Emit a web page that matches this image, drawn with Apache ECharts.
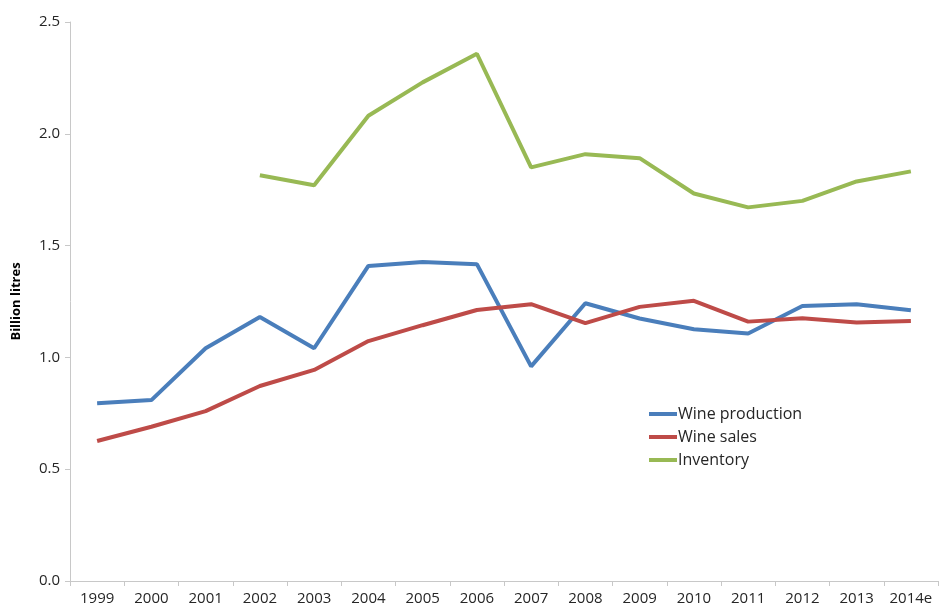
<!DOCTYPE html>
<html>
<head>
<meta charset="utf-8">
<script src="https://cdn.jsdelivr.net/npm/echarts@6/dist/echarts.min.js"></script>
<style>
html,body{margin:0;padding:0;background:#fff;}
#chart{width:939px;height:610px;}
</style>
</head>
<body>
<div id="chart"></div>
<script>
const categories = ['1999','2000','2001','2002','2003','2004','2005','2006','2007','2008','2009','2010','2011','2012','2013','2014e'];
const wineProduction = [0.795,0.809,1.041,1.181,1.041,1.409,1.427,1.417,0.960,1.242,1.174,1.126,1.107,1.230,1.238,1.211];
const wineSales = [0.626,0.690,0.760,0.872,0.944,1.073,1.144,1.212,1.238,1.153,1.226,1.253,1.160,1.175,1.156,1.163];
const inventory = [null,null,null,1.815,1.770,2.081,2.230,2.358,1.850,1.909,1.891,1.733,1.671,1.700,1.787,1.832];
const yTicks = [0,0.5,1.0,1.5,2.0,2.5];

const font = "'Open Sans', 'Liberation Sans', sans-serif";
const textColor = '#262626';
const chart = echarts.init(document.getElementById('chart'));
chart.setOption({
  animation:false,
  backgroundColor:'#fff',
  grid:{left:70,right:1,top:22,bottom:29,containLabel:false},
  legend:{
    orient:'vertical',left:644,top:401,itemWidth:28,itemHeight:4,itemGap:7,
    icon:'rect',
    textStyle:{fontFamily:font,fontSize:16,color:textColor,padding:[0,0,0,-4]},
    data:['Wine production','Wine sales','Inventory']
  },
  xAxis:{
    type:'category',data:categories,boundaryGap:true,
    axisLine:{lineStyle:{color:'#c8c8c8',width:1}},
    axisTick:{show:true,length:5,lineStyle:{color:'#c8c8c8'}},
    axisLabel:{fontFamily:font,fontSize:15,color:textColor,margin:10,interval:0},
    splitLine:{show:false}
  },
  yAxis:{
    type:'value',min:yTicks[0],max:yTicks[yTicks.length-1],interval:0.5,
    name:'Billion litres',nameLocation:'middle',nameGap:47,nameRotate:90,
    nameTextStyle:{fontFamily:font,fontSize:13,fontWeight:'bold',color:'#000'},
    axisLine:{show:true,lineStyle:{color:'#c8c8c8',width:1}},
    axisTick:{show:true,length:5,lineStyle:{color:'#c8c8c8'}},
    axisLabel:{fontFamily:font,fontSize:15,color:textColor,margin:10,formatter:v=>v.toFixed(1)},
    splitLine:{show:false}
  },
  series:[
    {name:'Wine production',type:'line',data:wineProduction,symbol:'none',
     lineStyle:{color:'#4A7EBB',width:4},itemStyle:{color:'#4A7EBB'}},
    {name:'Wine sales',type:'line',data:wineSales,symbol:'none',
     lineStyle:{color:'#BE4B48',width:4},itemStyle:{color:'#BE4B48'}},
    {name:'Inventory',type:'line',data:inventory,symbol:'none',connectNulls:false,
     lineStyle:{color:'#98B954',width:4},itemStyle:{color:'#98B954'}}
  ]
});
</script>
</body>
</html>
